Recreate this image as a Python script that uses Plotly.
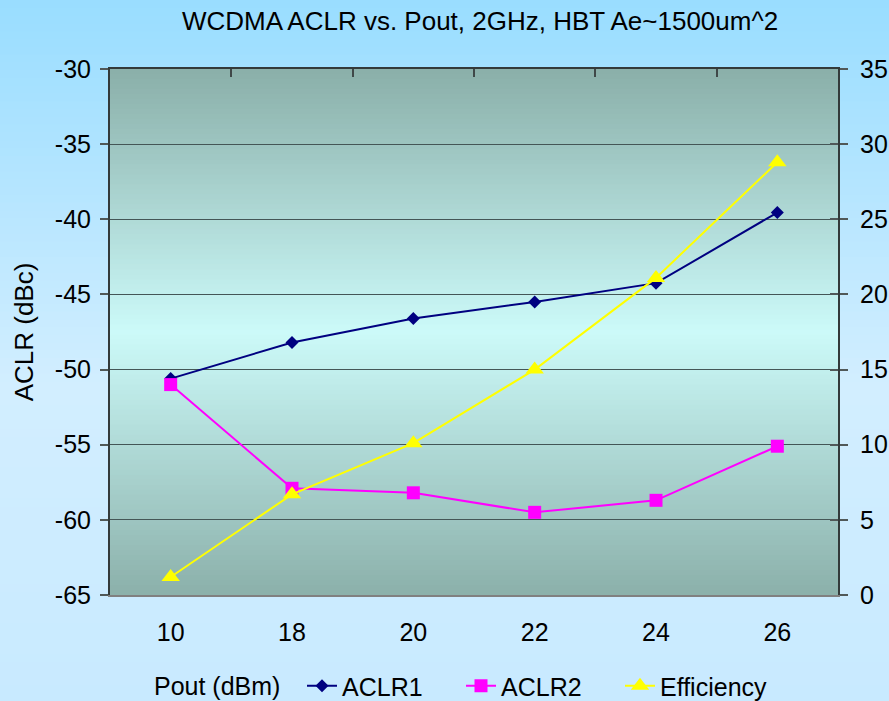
import plotly.graph_objects as go

# ---- data ----
categories = ["10", "18", "20", "22", "24", "26"]
aclr1 = [-50.6, -48.2, -46.6, -45.5, -44.25, -39.55]
aclr2 = [-51.0, -57.9, -58.2, -59.5, -58.7, -55.1]
efficiency = [1.2, 6.7, 10.1, 15.0, 21.1, 28.8]
left_ticks = [-65, -60, -55, -50, -45, -40, -35, -30]
right_ticks = [0, 5, 10, 15, 20, 25, 30, 35]

W, H = 889, 701
ML, MR, MT, MB = 110, 51, 69, 106
PW, PH = W - ML - MR, H - MT - MB

FONT = "Liberation Sans, Arial, sans-serif"


def lerp(c1, c2, t):
    return tuple(round(a + (b - a) * t) for a, b in zip(c1, c2))


def piecewise(stops, t):
    for (t0, c0), (t1, c1) in zip(stops, stops[1:]):
        if t0 <= t <= t1:
            return lerp(c0, c1, (t - t0) / (t1 - t0) if t1 > t0 else 0)
    return stops[-1][1]


shapes = []
# page background gradient (in paper coords extended to full page)
page_stops = [(0.0, (153, 221, 255)), (0.55, (210, 238, 255)), (1.0, (200, 234, 255))]
n_page = 90
for i in range(n_page):
    ytop_px = H * i / n_page
    ybot_px = H * (i + 1) / n_page + 1
    col = piecewise(page_stops, (i + 0.5) / n_page)
    shapes.append(dict(
        type="rect", xref="paper", yref="paper", layer="below",
        x0=-ML / PW, x1=(W - ML) / PW,
        y0=(H - MB - ybot_px) / PH, y1=(H - MB - ytop_px) / PH,
        fillcolor="rgb(%d,%d,%d)" % col, line=dict(width=0)))

# plot-area gradient
plot_stops = [(0.0, (138, 175, 169)), (0.5, (204, 250, 249)), (1.0, (139, 176, 170))]
n_plot = 105
for i in range(n_plot):
    col = piecewise(plot_stops, (i + 0.5) / n_plot)
    shapes.append(dict(
        type="rect", xref="paper", yref="paper", layer="below",
        x0=0, x1=1,
        y0=1 - (i + 1) / n_plot - 0.002, y1=1 - i / n_plot,
        fillcolor="rgb(%d,%d,%d)" % col, line=dict(width=0)))

fig = go.Figure()
fig.add_trace(go.Scatter(
    x=categories, y=aclr1, name="ACLR1", mode="lines+markers",
    line=dict(color="#000080", width=2),
    marker=dict(symbol="diamond", size=10, color="#000080")))
fig.add_trace(go.Scatter(
    x=categories, y=aclr2, name="ACLR2", mode="lines+markers",
    line=dict(color="#FF00FF", width=2),
    marker=dict(symbol="square", size=13, color="#FF00FF")))
fig.add_trace(go.Scatter(
    x=categories, y=efficiency, name="Efficiency", mode="lines+markers",
    yaxis="y2",
    line=dict(color="#FFFF00", width=2),
    marker=dict(symbol="triangle-up", size=16, color="#FFFF00")))

fig.update_layout(
    width=W, height=H,
    margin=dict(l=ML, r=MR, t=MT, b=MB, pad=0, autoexpand=False),
    paper_bgcolor="#C8EBFF",
    plot_bgcolor="rgba(0,0,0,0)",
    font=dict(family=FONT, color="#000000", size=24),
    shapes=shapes,
    title=dict(text="WCDMA ACLR vs. Pout, 2GHz, HBT Ae~1500um^2",
               font=dict(size=26, family=FONT), x=480 / W, xanchor="center",
               y=1 - 21 / H, yanchor="middle", xref="container", yref="container"),
    xaxis=dict(type="category", categoryorder="array", categoryarray=categories,
               range=[-0.5, len(categories) - 0.5],
               showline=True, linecolor="#808080", linewidth=2,
               ticks="", showgrid=False, zeroline=False,
               tickfont=dict(size=25), ticklabelstandoff=14),
    xaxis2=dict(overlaying="x", side="top", range=[-0.5, len(categories) - 0.5],
                tickmode="array", tickvals=[i + 0.5 for i in range(len(categories) - 1)],
                ticks="inside", ticklen=8, tickwidth=2, tickcolor="#404848",
                showticklabels=False, showline=True, linecolor="#333A3A", linewidth=2,
                showgrid=False, zeroline=False),
    yaxis=dict(range=[-65, -30], tickmode="array", tickvals=left_ticks,
               ticktext=[str(v) for v in left_ticks],
               showline=True, linecolor="#333A3A", linewidth=2,
               ticks="outside", ticklen=8, tickwidth=2, tickcolor="#505858",
               showgrid=True, gridcolor="#445656", gridwidth=1, zeroline=False,
               tickfont=dict(size=25), ticklabelstandoff=4,
               title=dict(text="ACLR (dBc)", font=dict(size=26), standoff=14)),
    yaxis2=dict(range=[0, 35], tickmode="array", tickvals=right_ticks,
                ticktext=[str(v) for v in right_ticks],
                overlaying="y", side="right",
                showline=True, linecolor="#333A3A", linewidth=2,
                ticks="outside", ticklen=8, tickwidth=2, tickcolor="#505858",
                showgrid=False, zeroline=False, tickfont=dict(size=25),
                ticklabelstandoff=7),
    yaxis3=dict(range=[0, 35], tickmode="array", tickvals=right_ticks,
                overlaying="y", side="right",
                showline=False, ticks="inside", ticklen=8, tickwidth=2,
                tickcolor="#505858", showticklabels=False,
                showgrid=False, zeroline=False),
    legend=dict(orientation="h", xref="container", yref="container",
                x=302 / W, xanchor="left",
                y=(H - 686) / H, yanchor="middle",
                bgcolor="rgba(0,0,0,0)", font=dict(size=25),
                entrywidth=114, itemwidth=30),
    annotations=[dict(text="Pout (dBm)", xref="paper", yref="paper",
                      x=(217 - ML) / PW, y=(H - MB - 686) / PH,
                      xanchor="center", yanchor="middle", showarrow=False,
                      font=dict(size=25))],
)

# invisible helper trace so xaxis2 / yaxis3 are drawn
fig.add_trace(go.Scatter(x=[0], y=[0], xaxis="x2", yaxis="y3", mode="markers",
                         marker=dict(opacity=0), showlegend=False, hoverinfo="skip"))

fig.write_html("out.html")
